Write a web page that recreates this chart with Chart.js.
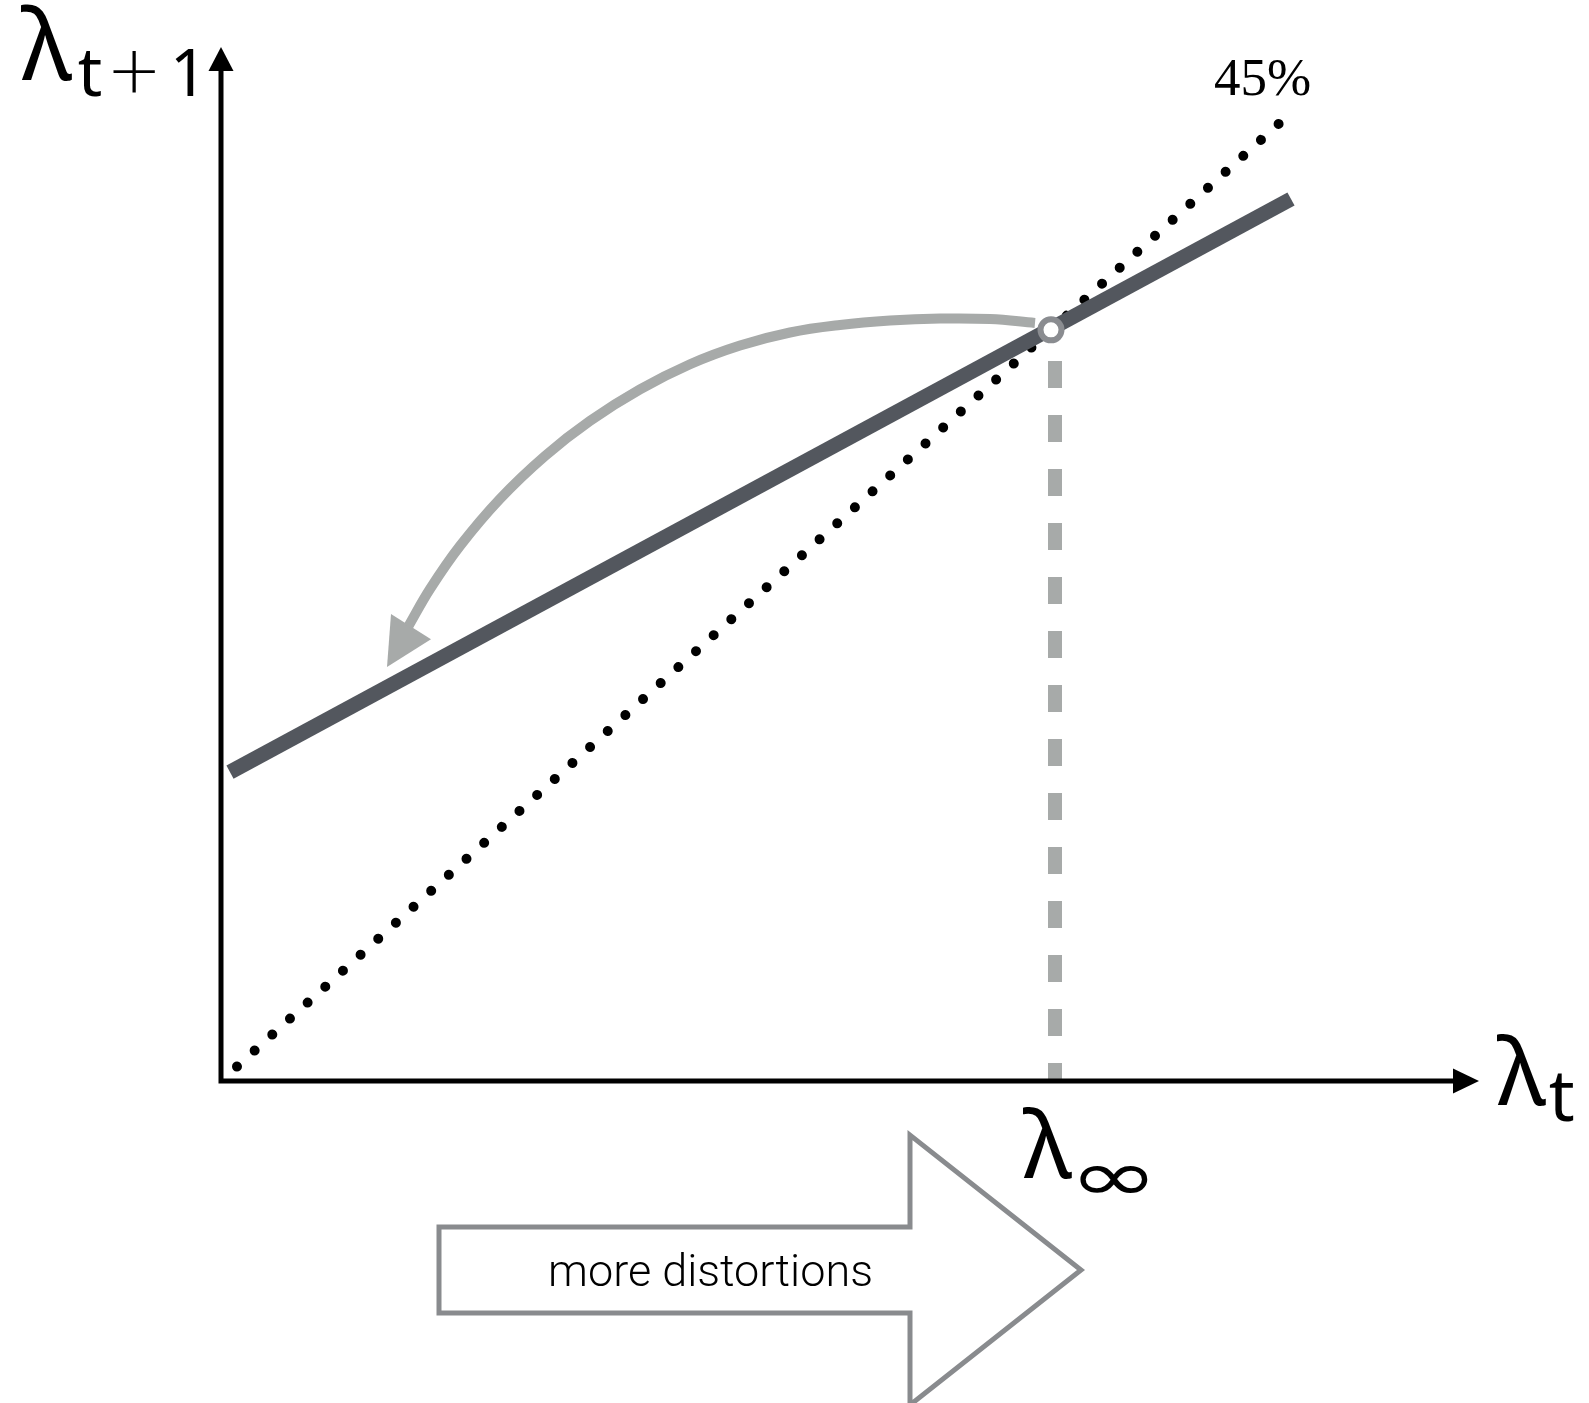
<!DOCTYPE html>
<html><head><meta charset="utf-8">
<script src="https://cdn.jsdelivr.net/npm/chart.js@4.4.0/dist/chart.umd.min.js"></script>
<style>html,body{margin:0;padding:0;background:#fff;overflow:hidden}#wrap{width:1589px;height:1403px;position:relative}</style>
</head><body><div id="wrap"><canvas id="c" width="1589" height="1403"></canvas></div>
<script>
// ---- data (model units: lambda_t on x, lambda_{t+1} on y) ----
const lambdaInf = 0.83;
const diagX = [0.016, 1.070];
const diagY = [0.016, 1.070];
const mapX = [0.009, 1.070];
const mapY = [0.3414, 0.9746];
const dashX = [0.834, 0.834];
const dashY = [0.7956, 0];
const curveX = [0.814, 0.769, 0.719, 0.669, 0.619, 0.569, 0.519, 0.469, 0.419, 0.369, 0.324, 0.279, 0.239, 0.209, 0.187];
const curveY = [0.8376, 0.8420, 0.8425, 0.8403, 0.8354, 0.8271, 0.8127, 0.7920, 0.7642, 0.7294, 0.6907, 0.6433, 0.5913, 0.5436, 0.5017];
const headX = [0.166, 0.170, 0.210, 0.166];
const headY = [0.4575, 0.5160, 0.4880, 0.4575];
const axisX = [0, 0, 1.234];
const axisY = [1.118, 0, 0];
const yArrowX = [-0.0125, 0, 0.0125, -0.0125];
const yArrowY = [1.116, 1.1425, 1.116, 1.116];
const xArrowX = [1.232, 1.258, 1.232, 1.232];
const xArrowY = [0.0138, 0, -0.0138, 0.0138];
const bigArrowX = [0.218, 0.218, 0.689, 0.689, 0.860, 0.689, 0.689, 0.218, 0.218];
const bigArrowY = [-0.2088, -0.1613, -0.1613, -0.0597, -0.2088, -0.3580, -0.2564, -0.2564, -0.2088];
const labelYAxis = ['λ', 't', '+', '1'];
const labelXAxis = ['λ', 't'];
const labelInf = ['λ', '∞'];
const label45 = '45%';
const arrowText = 'more distortions';

const pts = (xs, ys) => xs.map((x, i) => ({x, y: ys[i]}));
const base = {type: 'line', pointRadius: 0, fill: false, clip: false, tension: 0};

const textPlugin = {
  id: 'txt',
  afterDatasetsDraw(chart) {
    const ctx = chart.ctx, xs = chart.scales.x, ys = chart.scales.y;
    ctx.save();
    ctx.fillStyle = '#000';
    ctx.textBaseline = 'alphabetic';
    ctx.textAlign = 'left';
    const F = '"Noto Sans", "DejaVu Sans", sans-serif';
    // parts drawn left to right, each with own font, baseline shift, gap and horizontal stretch
    function sub(parts, x, y, fonts, dys, gaps, sx) {
      let px = xs.getPixelForValue(x);
      const py = ys.getPixelForValue(y);
      for (let i = 0; i < parts.length; i++) {
        ctx.font = fonts[i];
        px += gaps[i];
        const s = sx ? sx[i] : 1;
        ctx.save();
        ctx.translate(px, py + dys[i]);
        ctx.scale(s, 1);
        ctx.fillText(parts[i], 0, 0);
        ctx.restore();
        px += ctx.measureText(parts[i]).width * s;
      }
    }
    sub(labelYAxis, -0.200, 1.106,
        ['98px ' + F, '68px ' + F, '200 66px "DejaVu Sans", ' + F, '66px ' + F],
        [0, 16, 12, 16], [0, 6, 4, 8]);
    sub(labelXAxis, 1.276, -0.0265, ['94px ' + F, '72px ' + F], [0, 16], [0, 3]);
    sub(labelInf, 0.802, -0.107, ['94px ' + F, '72px ' + F], [0, 23], [0, -3], [1, 1.5]);
    ctx.font = '53px "Liberation Serif", "DejaVu Serif", serif';
    ctx.fillText(label45, xs.getPixelForValue(0.993), ys.getPixelForValue(1.0895));
    ctx.font = '300 45px Roboto, "Liberation Sans", sans-serif';
    ctx.textAlign = 'center';
    ctx.fillText(arrowText, xs.getPixelForValue(0.4895), ys.getPixelForValue(-0.2265));
    ctx.restore();
  }
};

new Chart(document.getElementById('c'), {
  type: 'line',
  data: {
    datasets: [
      Object.assign({}, base, {data: pts(axisX, axisY), borderColor: '#000', borderWidth: 5, borderJoinStyle: 'miter', order: 0}),
      Object.assign({}, base, {data: pts(yArrowX, yArrowY), borderWidth: 0, borderColor: 'rgba(0,0,0,0)', backgroundColor: '#000', fill: 'shape', order: 0}),
      Object.assign({}, base, {data: pts(xArrowX, xArrowY), borderWidth: 0, borderColor: 'rgba(0,0,0,0)', backgroundColor: '#000', fill: 'shape', order: 0}),
      {type: 'scatter', data: [{x: lambdaInf, y: lambdaInf}], pointRadius: 10.5, pointHoverRadius: 10.5, borderWidth: 6, borderColor: '#8a8c90', backgroundColor: '#fff', clip: false, order: 1},
      Object.assign({}, base, {data: pts(mapX, mapY), borderColor: '#53575e', borderWidth: 15, borderCapStyle: 'butt', order: 2}),
      Object.assign({}, base, {data: pts(curveX, curveY), borderColor: '#a7aaa9', borderWidth: 10, tension: 0.4, borderCapStyle: 'butt', order: 3}),
      Object.assign({}, base, {data: pts(headX, headY), borderWidth: 0, borderColor: 'rgba(0,0,0,0)', backgroundColor: '#a7aaa9', fill: 'shape', order: 3}),
      Object.assign({}, base, {data: pts(dashX, dashY), borderColor: '#a7aaa9', borderWidth: 14, borderDash: [27, 27], borderCapStyle: 'butt', order: 4}),
      Object.assign({}, base, {data: pts(diagX, diagY), borderColor: '#000', borderWidth: 10, borderDash: [0.01, 23.8], borderCapStyle: 'round', order: 5}),
      Object.assign({}, base, {data: pts(bigArrowX, bigArrowY), borderColor: '#898b8e', borderWidth: 5, borderJoinStyle: 'miter', order: 6})
    ]
  },
  options: {
    responsive: false,
    animation: false,
    devicePixelRatio: 1,
    layout: {padding: 0, autoPadding: false},
    plugins: {legend: {display: false}, tooltip: {enabled: false}},
    events: [],
    scales: {
      x: {type: 'linear', min: -0.221, max: 1.368, display: false},
      y: {type: 'linear', min: -0.3558, max: 1.1945, display: false}
    }
  },
  plugins: [textPlugin]
});
</script></body></html>
